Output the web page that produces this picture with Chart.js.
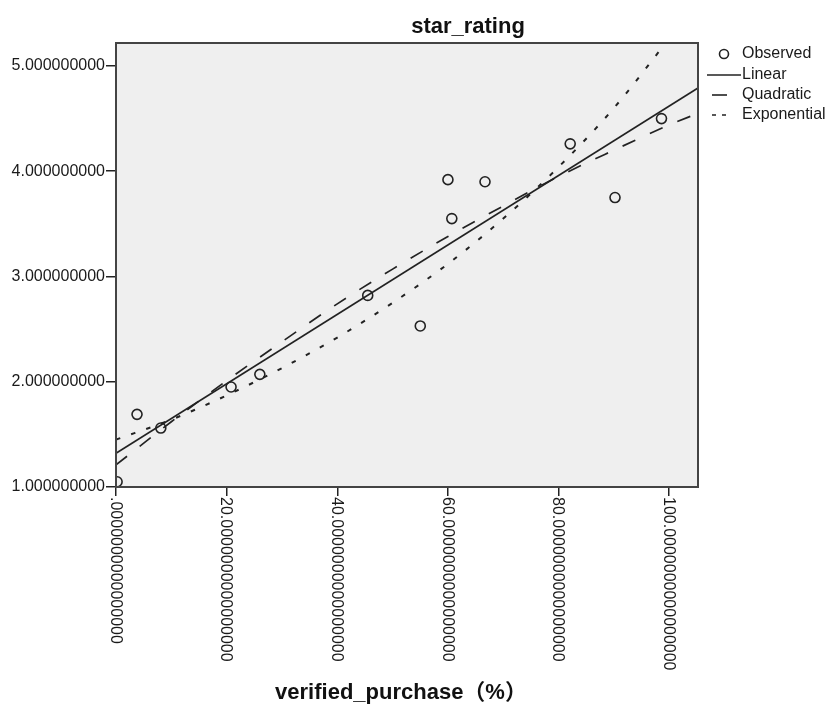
<!DOCTYPE html>
<html>
<head>
<meta charset="utf-8">
<script src="https://cdn.jsdelivr.net/npm/chart.js@4/dist/chart.umd.min.js"></script>
<style>
html,body{margin:0;padding:0;background:#fff;}
#wrap{width:825px;height:706px;position:relative;}
</style>
</head>
<body>
<div id="wrap"><canvas id="c" width="825" height="706"></canvas></div>
<script>
// ---- data ----
const chartTitle = "star_rating";
const xAxisTitle = "verified_purchase（%）";
const seriesNames = ["Observed", "Linear", "Quadratic", "Exponential"];

const obsX = [0.2, 3.8, 8.1, 20.8, 26.0, 45.5, 55.0, 60.0, 60.7, 66.7, 82.1, 90.2, 98.6];
const obsY = [1.05, 1.69, 1.56, 1.95, 2.07, 2.82, 2.53, 3.92, 3.55, 3.90, 4.26, 3.75, 4.50];

const linX = [0, 105.2];
const linY = [1.32, 4.79];

const quadX = [0, 10, 20, 30, 40, 50, 60, 70, 80, 90, 100, 105.2];
const quadY = [1.21, 1.62, 2.01, 2.38, 2.74, 3.07, 3.38, 3.67, 3.95, 4.20, 4.44, 4.55];

const expX = [0, 10, 20, 30, 40, 50, 60, 70, 80, 90, 100];
const expY = [1.45, 1.64, 1.87, 2.13, 2.42, 2.75, 3.12, 3.55, 4.04, 4.60, 5.26];

const yTicks = [1, 2, 3, 4, 5];
const yTickLabels = ["1.000000000", "2.000000000", "3.000000000", "4.000000000", "5.000000000"];
const xTicks = [0, 20, 40, 60, 80, 100];
const xTickLabels = [".0000000000000000", "20.0000000000000000", "40.0000000000000000",
                     "60.0000000000000000", "80.0000000000000000", "100.0000000000000000"];

const xMin = 0, xMax = 105.2, yMin = 1, yMax = 5.218;

const toPts = (xs, ys) => xs.map((x, i) => ({x: x, y: ys[i]}));
const ink = "#222222";

const decorPlugin = {
  id: "decor",
  beforeDraw(chart) {
    const {ctx, chartArea: a} = chart;
    ctx.save();
    ctx.fillStyle = "#efefef";
    ctx.fillRect(a.left, a.top, a.right - a.left, a.bottom - a.top);
    ctx.restore();
  },
  afterDraw(chart) {
    const {ctx, chartArea: a} = chart;
    const xs = chart.scales.x;
    ctx.save();
    // plot frame
    ctx.strokeStyle = "#444444";
    ctx.lineWidth = 2;
    ctx.strokeRect(a.left, a.top, a.right - a.left, a.bottom - a.top);

    // title
    ctx.fillStyle = "#111";
    ctx.font = "bold 22px 'Liberation Sans', Arial, sans-serif";
    ctx.textAlign = "center";
    ctx.textBaseline = "alphabetic";
    ctx.fillText(chartTitle, 468, 33);

    // x tick labels, rotated clockwise
    ctx.font = "16px 'Liberation Sans', Arial, sans-serif";
    ctx.fillStyle = "#1a1a1a";
    xTicks.forEach((v, i) => {
      const px = xs.getPixelForValue(v);
      ctx.save();
      ctx.translate(px - 1, a.bottom + 10);
      ctx.rotate(Math.PI / 2);
      ctx.textAlign = "left";
      ctx.textBaseline = "middle";
      ctx.fillText(xTickLabels[i], 0, 0);
      ctx.restore();
    });

    // x axis title
    ctx.font = "bold 22px 'Liberation Sans', 'Noto Sans CJK SC', Arial, sans-serif";
    ctx.fillStyle = "#111";
    ctx.textAlign = "center";
    ctx.textBaseline = "alphabetic";
    ctx.fillText(xAxisTitle, 401, 699);

    // legend
    ctx.font = "16px 'Liberation Sans', Arial, sans-serif";
    ctx.fillStyle = "#1a1a1a";
    ctx.textAlign = "left";
    ctx.textBaseline = "middle";
    const lx = 742;
    const rows = [54, 75, 95, 115];
    seriesNames.forEach((n, i) => ctx.fillText(n, lx, rows[i]));
    ctx.strokeStyle = ink;
    ctx.lineWidth = 1.6;
    ctx.beginPath(); ctx.arc(724, rows[0], 4.5, 0, Math.PI * 2); ctx.stroke();
    ctx.beginPath(); ctx.moveTo(707, rows[1]); ctx.lineTo(741, rows[1]); ctx.stroke();
    ctx.beginPath(); ctx.moveTo(712, rows[2]); ctx.lineTo(727, rows[2]); ctx.stroke();
    ctx.beginPath(); ctx.moveTo(712, rows[3]); ctx.lineTo(716, rows[3]);
    ctx.moveTo(722, rows[3]); ctx.lineTo(726, rows[3]); ctx.stroke();
    ctx.restore();
  }
};

new Chart(document.getElementById("c"), {
  type: "scatter",
  data: {
    datasets: [
      {
        label: seriesNames[0], data: toPts(obsX, obsY), showLine: false,
        pointStyle: "circle", pointRadius: 5, pointBorderWidth: 1.6,
        pointBackgroundColor: "rgba(0,0,0,0)", pointBorderColor: ink, order: 0
      },
      {
        label: seriesNames[1], data: toPts(linX, linY), showLine: true,
        borderColor: ink, borderWidth: 1.7, pointRadius: 0, fill: false
      },
      {
        label: seriesNames[2], data: toPts(quadX, quadY), showLine: true,
        borderColor: ink, borderWidth: 1.7, borderDash: [14, 16], pointRadius: 0,
        fill: false, cubicInterpolationMode: "monotone"
      },
      {
        label: seriesNames[3], data: toPts(expX, expY), showLine: true,
        borderColor: ink, borderWidth: 2, borderDash: [4.5, 11.5], pointRadius: 0,
        fill: false, cubicInterpolationMode: "monotone"
      }
    ]
  },
  options: {
    responsive: false,
    animation: false,
    layout: {padding: {top: 43, right: 127, left: 0, bottom: 0}},
    plugins: {legend: {display: false}, tooltip: {enabled: false}, title: {display: false}},
    scales: {
      x: {
        type: "linear", min: xMin, max: xMax,
        afterBuildTicks: s => { s.ticks = xTicks.map(v => ({value: v})); },
        afterFit: s => { s.height = 219; },
        grid: {drawOnChartArea: false, drawTicks: true, tickLength: 9, color: ink, lineWidth: 1.5},
        border: {display: false},
        ticks: {display: false}
      },
      y: {
        type: "linear", min: yMin, max: yMax,
        afterBuildTicks: s => { s.ticks = yTicks.map(v => ({value: v})); },
        afterFit: s => { s.width = 116; },
        grid: {drawOnChartArea: false, drawTicks: true, tickLength: 10, color: ink, lineWidth: 1.5},
        border: {display: false},
        ticks: {
          padding: 1, color: "#1a1a1a",
          font: {size: 16, family: "'Liberation Sans', Arial, sans-serif"},
          callback: (v) => { const i = yTicks.indexOf(v); return i >= 0 ? yTickLabels[i] : ""; }
        }
      }
    }
  },
  plugins: [decorPlugin]
});
</script>
</body>
</html>
